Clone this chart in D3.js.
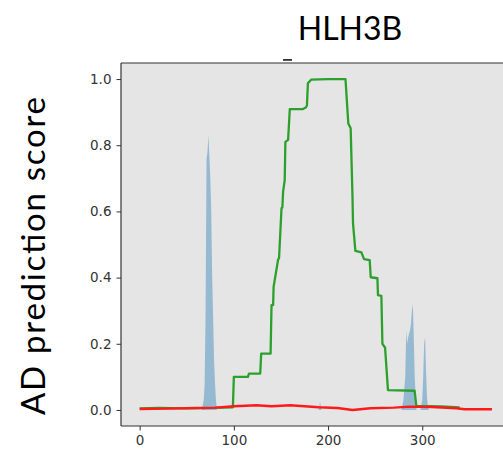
<!DOCTYPE html>
<html>
<head>
<meta charset="utf-8">
<script src="https://cdn.jsdelivr.net/npm/d3@7"></script>
<style>
  html, body { margin: 0; padding: 0; background: #ffffff; }
  svg { display: block; }
</style>
</head>
<body>
<svg id="chart" width="503" height="453"></svg>
<script>
// Residue position / score pairs for each trace
const greenX = [0, 20, 50, 80, 99, 100, 115, 116, 128, 129, 139, 140, 141.7, 142.2, 146.9, 148, 150.6, 151.5, 152.3, 154, 154.7, 157.6, 159.4, 172.9, 176.4, 177.6, 178.6, 182, 200, 218.5, 221.5, 224, 225.9, 226.5, 229, 235.4, 238.2, 244.2, 245.3, 252.4, 253, 256.6, 257.7, 260.1, 260.5, 263.6, 291.9, 293.7, 320, 339.7];
const greenY = [0.005, 0.006, 0.005, 0.006, 0.008, 0.1, 0.1, 0.11, 0.11, 0.17, 0.17, 0.317, 0.317, 0.372, 0.453, 0.46, 0.61, 0.612, 0.66, 0.695, 0.81, 0.816, 0.909, 0.909, 0.914, 0.92, 0.987, 0.998, 1.0, 1.0, 0.866, 0.851, 0.65, 0.564, 0.481, 0.476, 0.456, 0.453, 0.401, 0.398, 0.347, 0.345, 0.2, 0.19, 0.19, 0.06, 0.058, 0.012, 0.011, 0.008];

const redX = [0, 30, 60, 80, 100, 124, 140, 160, 190, 210, 226, 245, 270, 287, 310, 336, 345, 374];
const redY = [0.003, 0.004, 0.006, 0.007, 0.011, 0.014, 0.011, 0.014, 0.008, 0.006, 0.0, 0.005, 0.007, 0.01, 0.009, 0.005, 0.002, 0.002];

const blueX = [0, 66, 68, 69, 70, 71, 72, 73, 74, 75, 76, 77, 78, 79, 80, 81, 82, 190, 191.5, 193, 278, 280, 282, 283, 284, 285, 286, 287, 288, 289, 290, 291, 292, 293, 294, 298, 300, 301, 302, 303, 304, 305, 306, 307, 374];
const blueY = [0, 0, 0.03, 0.08, 0.3, 0.76, 0.78, 0.83, 0.77, 0.7, 0.6, 0.4, 0.28, 0.15, 0.08, 0.03, 0, 0, 0.025, 0, 0, 0.03, 0.1, 0.24, 0.2, 0.22, 0.23, 0.24, 0.26, 0.3, 0.32, 0.22, 0.1, 0.04, 0, 0, 0.03, 0.1, 0.2, 0.22, 0.12, 0.04, 0.01, 0, 0];

const xTicks = [0, 100, 200, 300];
const yTicks = [0.0, 0.2, 0.4, 0.6, 0.8, 1.0];

const titleText = "HLH3B";
const yLabelText = "AD prediction score";

const svg = d3.select("#chart");
const plotLeft = 121, plotTop = 63, plotBottom = 426;
const x = d3.scaleLinear().domain([-19.8, 400]).range([plotLeft, plotLeft + 419.8 * 0.942]);
const y = d3.scaleLinear().domain([-0.05, 1.05]).range([426.5, 62.5]);
const plotRight = x.range()[1];

// plot background
svg.append("rect")
  .attr("x", plotLeft).attr("y", plotTop)
  .attr("width", plotRight - plotLeft).attr("height", plotBottom - plotTop)
  .attr("fill", "#e5e5e5");

svg.append("clipPath").attr("id", "plotclip")
  .append("rect").attr("x", plotLeft).attr("y", plotTop)
  .attr("width", plotRight - plotLeft).attr("height", plotBottom - plotTop);

const plot = svg.append("g").attr("clip-path", "url(#plotclip)");

const zip = (xs, ys) => xs.map((v, i) => [v, ys[i]]);

// shaded per-residue score
plot.append("path")
  .datum(zip(blueX, blueY))
  .attr("fill", "#1f77b4")
  .attr("fill-opacity", 0.4)
  .attr("d", d3.area().x(d => x(d[0])).y0(y(0)).y1(d => y(d[1])));

plot.append("path")
  .datum(zip(greenX, greenY))
  .attr("fill", "none")
  .attr("stroke", "#2ca02c")
  .attr("stroke-width", 2.3)
  .attr("stroke-linejoin", "round")
  .attr("d", d3.line().x(d => x(d[0])).y(d => y(d[1])));

plot.append("path")
  .datum(zip(redX, redY))
  .attr("fill", "none")
  .attr("stroke", "#ff1a1a")
  .attr("stroke-width", 2.4)
  .attr("stroke-linejoin", "round")
  .attr("d", d3.line().x(d => x(d[0])).y(d => y(d[1])));

// axes
const axisColor = "#333";
const xAxis = svg.append("g")
  .attr("transform", `translate(0,${plotBottom})`)
  .call(d3.axisBottom(x).tickValues(xTicks).tickSize(4.5).tickPadding(5).tickFormat(d3.format("d")));
const yAxis = svg.append("g")
  .attr("transform", `translate(${plotLeft},0)`)
  .call(d3.axisLeft(y).tickValues(yTicks).tickSize(4.5).tickPadding(5).tickFormat(d3.format(".1f")));

[xAxis, yAxis].forEach(g => {
  g.select(".domain").remove();
  g.selectAll(".tick line").attr("stroke", axisColor).attr("stroke-width", 1);
  g.selectAll(".tick text")
    .attr("fill", "#333")
    .style("font-family", "'DejaVu Sans', sans-serif")
    .style("font-size", "13.5px");
});

// spines
svg.append("line").attr("x1", plotLeft).attr("x2", plotLeft).attr("y1", plotTop).attr("y2", plotBottom)
  .attr("stroke", axisColor).attr("stroke-width", 1.2);
svg.append("line").attr("x1", plotLeft).attr("x2", plotRight).attr("y1", plotBottom).attr("y2", plotBottom)
  .attr("stroke", axisColor).attr("stroke-width", 1.2);
svg.append("line").attr("x1", plotLeft).attr("x2", plotRight).attr("y1", plotTop).attr("y2", plotTop)
  .attr("stroke", axisColor).attr("stroke-width", 1.2);

// small mark above the frame
svg.append("rect").attr("x", 283).attr("y", 59).attr("width", 9).attr("height", 1.8).attr("fill", "#333");

// title and axis label
svg.append("text")
  .attr("x", 350).attr("y", 40)
  .attr("text-anchor", "middle")
  .style("font-family", "Lato, 'Open Sans', sans-serif")
  .style("font-size", "32px")
  .attr("fill", "#000")
  .text(titleText);

svg.append("text")
  .attr("transform", "translate(45,256) rotate(-90)")
  .attr("text-anchor", "middle")
  .attr("textLength", 318)
  .attr("lengthAdjust", "spacing")
  .style("font-family", "Lato, 'Open Sans', sans-serif")
  .style("font-size", "33px")
  .attr("fill", "#000")
  .text(yLabelText);
</script>
</body>
</html>
